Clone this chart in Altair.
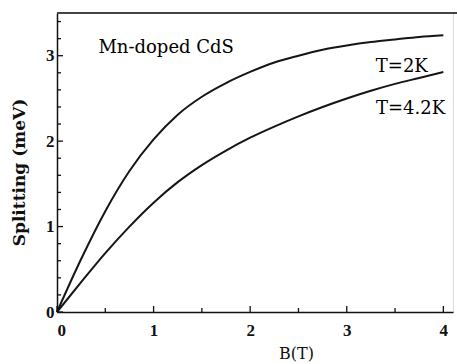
import altair as alt
import pandas as pd

# Data
B_vals = [0, 0.25, 0.5, 0.75, 1.0, 1.25, 1.5, 1.75, 2.0, 2.25, 2.5, 2.75, 3.0, 3.25, 3.5, 3.75, 4.0]
split_2K = [0, 0.62, 1.18, 1.65, 2.02, 2.31, 2.52, 2.68, 2.81, 2.92, 3.00, 3.07, 3.12, 3.16, 3.19, 3.22, 3.24]
split_42K = [0, 0.35, 0.69, 1.00, 1.28, 1.52, 1.72, 1.89, 2.04, 2.17, 2.29, 2.40, 2.50, 2.59, 2.67, 2.74, 2.81]

label_text = ["Mn-doped CdS", "T=2K", "T=4.2K"]
label_x = [1.13, 3.57, 3.66]
label_y = [3.03, 2.81, 2.32]

x_major = [0, 1, 2, 3, 4]
x_minor = [0.5, 1.5, 2.5, 3.5]
y_major = [0, 1, 2, 3]
y_minor = [0.2, 0.4, 0.6, 0.8, 1.2, 1.4, 1.6, 1.8, 2.2, 2.4, 2.6, 2.8, 3.2, 3.4]

W, H = 396, 299
XDOM = [0, 4.1]
YDOM = [0, 3.5]
SERIF = "DejaVu Serif"
TICKFONT = "Liberation Serif"

rows = []
for b, a, c in zip(B_vals, split_2K, split_42K):
    rows.append({"B": b, "S": a, "T": "2K"})
    rows.append({"B": b, "S": c, "T": "4.2K"})
df = pd.DataFrame(rows)

xs = alt.Scale(domain=XDOM, nice=False, zero=False)
ys = alt.Scale(domain=YDOM, nice=False, zero=False)

x_axis = alt.Axis(values=x_major, format="d", ticks=False, labelFont=TICKFONT,
                  labelFontSize=17, labelFontWeight="bold", labelColor="#111",
                  labelPadding=10, domainColor="#111", domainWidth=1.5, grid=False,
                  title="B(T)", titleFont=SERIF, titleFontSize=16, titleFontWeight="normal",
                  titleColor="#111", titleX=239, titleY=46, titleBaseline="alphabetic")
y_axis = alt.Axis(values=y_major, format="d", ticks=False, labelFont=TICKFONT,
                  labelFontSize=17, labelFontWeight="bold", labelColor="#111",
                  labelPadding=3, domainColor="#111", domainWidth=1.5, grid=False,
                  title="Splitting (meV)", titleFont=SERIF, titleFontSize=17,
                  titleFontWeight="bold", titleColor="#111", titleX=-38, titleY=159,
                  titleBaseline="middle", titleAngle=-90)

lines = alt.Chart(df).mark_line(color="#151515", strokeWidth=2, interpolate="monotone").encode(
    x=alt.X("B:Q", scale=xs, axis=x_axis),
    y=alt.Y("S:Q", scale=ys, axis=y_axis),
    detail="T:N",
)

labels = alt.Chart(pd.DataFrame({"t": label_text, "x": label_x, "y": label_y})).mark_text(
    font=SERIF, fontSize=18, color="#000", align="center", baseline="alphabetic"
).encode(x=alt.X("x:Q", scale=xs), y=alt.Y("y:Q", scale=ys), text="t:N")

xmaj = alt.Chart(pd.DataFrame({"v": x_major})).mark_rule(color="#111", strokeWidth=1.3).encode(
    x=alt.X("v:Q", scale=xs), y=alt.value(H), y2=alt.value(H - 6))
xmin = alt.Chart(pd.DataFrame({"v": x_minor})).mark_rule(color="#111", strokeWidth=1.3).encode(
    x=alt.X("v:Q", scale=xs), y=alt.value(H), y2=alt.value(H - 4))
ymaj = alt.Chart(pd.DataFrame({"v": y_major})).mark_rule(color="#111", strokeWidth=1.3).encode(
    y=alt.Y("v:Q", scale=ys), x=alt.value(0), x2=alt.value(6))
ymin = alt.Chart(pd.DataFrame({"v": y_minor})).mark_rule(color="#111", strokeWidth=1.3).encode(
    y=alt.Y("v:Q", scale=ys), x=alt.value(0), x2=alt.value(4))
top = alt.Chart(pd.DataFrame({"v": [YDOM[1]]})).mark_rule(color="#444", strokeWidth=2).encode(
    y=alt.Y("v:Q", scale=ys), x=alt.value(0), x2=alt.value(W + 4))

chart = alt.layer(lines, labels, xmaj, xmin, ymaj, ymin, top).properties(
    width=W, height=H,
    autosize=alt.AutoSizeParams(type="none"),
    padding={"left": 57, "top": 13, "right": 4, "bottom": 52},
).configure_view(stroke=None).configure(background="white")

chart.save("out.html", embed_options={"renderer": "svg", "actions": False})
